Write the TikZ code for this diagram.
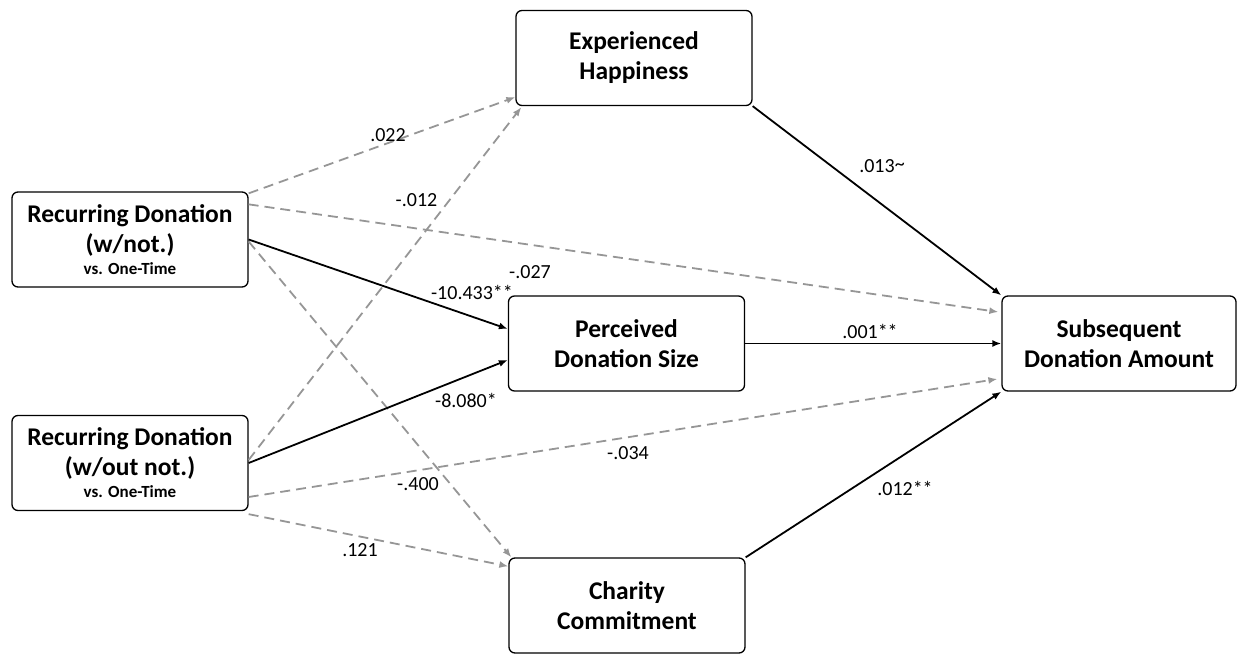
\documentclass[tikz,border=0pt]{standalone}
\usepackage{fontspec}
\setmainfont{Carlito}
\usetikzlibrary{arrows.meta}
\definecolor{dgray}{RGB}{150,150,150}
\begin{document}
\begin{tikzpicture}[x=1pt,y=1pt,
  box/.style={draw, line width=1.3pt, rounded corners=6pt, minimum width=236pt, minimum height=95pt, align=center, inner sep=0pt, font=\bfseries\fontsize{25.5}{30}\selectfont},
  sol/.style={line width=1.8pt, -{Latex[length=9pt,width=7pt]}},
  dsh/.style={line width=1.8pt, draw=dgray, dash pattern=on 10pt off 6pt, -{Latex[length=9pt,width=7pt]}},
  lab/.style={font=\fontsize{20}{22}\selectfont, inner sep=0pt}]
\useasboundingbox (0,0) rectangle (1238,654);
\newcommand{\subl}{\fontsize{17}{20}\selectfont vs. One-Time}
\node[box] (A) at (130,414.5) {Recurring Donation\\(w/not.)\\[-8pt]{\subl}};
\node[box] (B) at (130,191) {Recurring Donation\\(w/out not.)\\[-8pt]{\subl}};
\node[box] (H) at (634,596) {Experienced\\Happiness};
\node[box] (P) at (626.5,310.5) {Perceived\\Donation Size};
\node[box, minimum width=234pt] (S) at (1119,310.5) {Subsequent\\Donation Amount};
\node[box] (C) at (627,48.5) {Charity\\Commitment};
% dashed
\draw[dsh] ([yshift=-2pt]A.north east) -- ([yshift=9pt]H.south west);
\draw[dsh] ([yshift=3pt]B.east) -- ([xshift=6pt,yshift=-1pt]H.south west);
\draw[dsh] ([yshift=-13pt]A.north east) -- ([xshift=-3pt,yshift=31.5pt]S.west);
\draw[dsh] ([yshift=-2pt]A.east) -- ([xshift=3pt]C.north west);
\draw[dsh] ([yshift=-34pt]B.east) -- ([xshift=-4pt,yshift=-35.5pt]S.west);
\draw[dsh] ([yshift=-3pt]B.south east) -- ([yshift=-9pt]C.north west);
% solid
\draw[sol] (A.east) -- ([yshift=14.5pt]P.west);
\draw[sol] (B.east) -- ([yshift=-16.5pt]P.west);
\draw[sol] (H.south east) -- (S.north west);
\draw[sol] (P.east) -- (S.west);
\draw[sol] (C.north east) -- (S.south west);
% labels
\node[lab] (l1) at (388,519) {.022};
\node[lab] (l2) at (416.5,454) {-.012};
\node[lab] (l3) at (530,382) {-.027};
\node[lab] (l4) at (472,362) {-10.433**};
\node[lab] (l5) at (466,254) {-8.080*};
\node[lab] (l6) at (418,170) {-.400};
\node[lab] (l7) at (628,201) {-.034};
\node[lab] (l8) at (360,104) {.121};
\node[lab] (l9) at (882,488) {.013\raisebox{2pt}{\textasciitilde}};
\node[lab] (l10) at (870,323) {.001**};
\node[lab] (l11) at (905,166) {.012**};
\end{tikzpicture}
\end{document}
